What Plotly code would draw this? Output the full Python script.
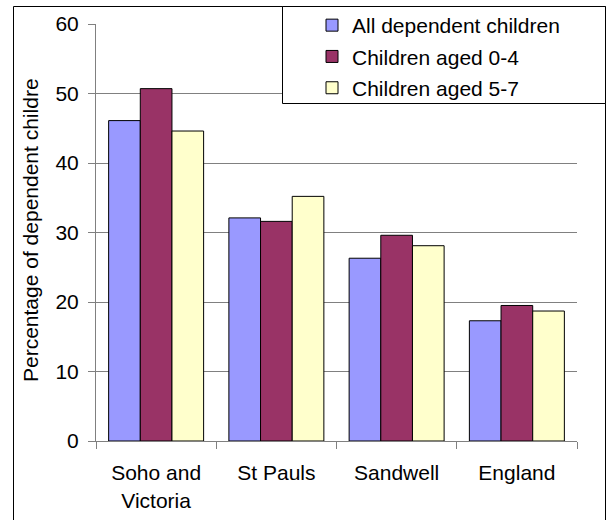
import plotly.graph_objects as go

categories = ["Soho and<br>Victoria", "St Pauls", "Sandwell", "England"]
all_children = [46.1, 32.1, 26.3, 17.3]
aged_0_4 = [50.7, 31.6, 29.6, 19.5]
aged_5_7 = [44.6, 35.2, 28.1, 18.7]
series_names = ["All dependent children", "Children aged 0-4", "Children aged 5-7"]
y_ticks = [0, 10, 20, 30, 40, 50, 60]

# body margin is removed by post_script, so the figure fills the 607x520 window
W, H = 607, 520
# plot area in window pixels: x 96..577, y 24..441
L, R, T, B = 96, 607 - 577, 24, 520 - 441
pw, ph = W - L - R, H - T - B

def px(x):  # window pixel -> paper
    return (x - L) / pw

def py(y):
    return (H - B - y) / ph

FONT = "Liberation Sans, Arial, sans-serif"
FS = 21
colors = ["#9999FF", "#993366", "#FFFFCC"]

fig = go.Figure()
for i, (name, vals) in enumerate(zip(series_names, [all_children, aged_0_4, aged_5_7])):
    fig.add_trace(go.Bar(
        x=categories, y=vals, name=name, legendgroup=name,
        marker=dict(color=colors[i], line=dict(color="black", width=1)),
    ))

fig.update_layout(
    width=W, height=H,
    margin=dict(l=L, r=R, t=T, b=B, autoexpand=False),
    paper_bgcolor="white", plot_bgcolor="white",
    font=dict(family=FONT, size=FS, color="black"),
    barmode="group", bargap=0.21, bargroupgap=0,
    showlegend=True,
    legend=dict(
        x=px(312), y=py(5), xanchor="left", yanchor="top",
        bgcolor="rgba(0,0,0,0)", borderwidth=0,
        font=dict(family=FONT, size=FS, color="black"),
        traceorder="grouped", tracegroupgap=1,
    ),
    xaxis=dict(
        showgrid=False, showline=True, linecolor="#808080", linewidth=1,
        ticks="outside", tickson="boundaries", ticklen=7, tickcolor="#808080",
        tickfont=dict(family=FONT, size=FS, color="black"),
        ticklabelstandoff=13, automargin=False,
    ),
    yaxis=dict(
        range=[0, 60], tickvals=y_ticks,
        showgrid=True, gridcolor="#808080", gridwidth=1,
        showline=True, linecolor="#808080", linewidth=1,
        ticks="outside", ticklen=7, tickcolor="#808080",
        tickfont=dict(family=FONT, size=FS, color="black"),
        ticklabelstandoff=5, zeroline=False, automargin=False,
    ),
    shapes=[
        dict(type="rect", xref="paper", yref="paper",
             x0=px(13.5), x1=px(605.5), y0=py(530), y1=py(6.5),
             line=dict(color="black", width=1), fillcolor="rgba(0,0,0,0)", layer="above"),
        dict(type="rect", xref="paper", yref="paper",
             x0=px(282.5), x1=px(605.5), y0=py(103.5), y1=py(6.5),
             line=dict(color="black", width=1), fillcolor="white", layer="above"),
    ],
    annotations=[
        dict(text="Percentage of dependent childre", textangle=-90,
             xref="paper", yref="paper", x=px(30), y=py(384),
             xanchor="center", yanchor="bottom", showarrow=False,
             font=dict(family=FONT, size=FS, color="black")),
    ],
)

fig.write_html("out.html", config={"displayModeBar": False, "staticPlot": True},
               post_script="document.body.style.margin='0px';")
